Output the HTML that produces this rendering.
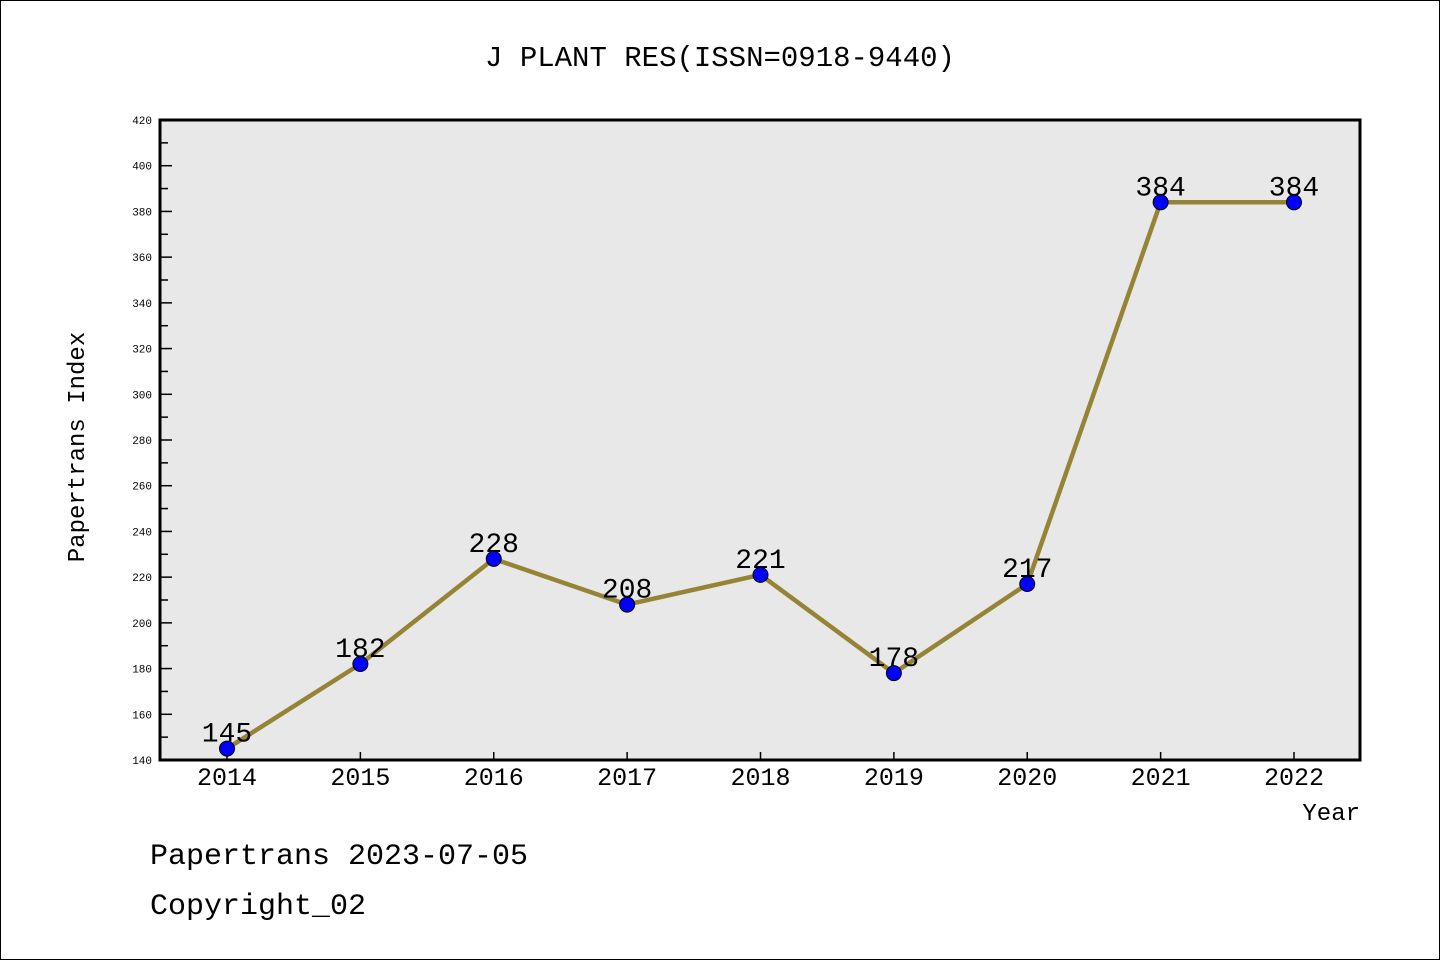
<!DOCTYPE html>
<html><head><meta charset="utf-8"><style>
html,body{margin:0;padding:0;background:#fff}
svg{display:block}
text{font-family:"Liberation Mono","WenQuanYi Zen Hei",monospace}
</style></head><body>
<svg id="chart" width="1440" height="960" xmlns="http://www.w3.org/2000/svg">
<rect x="0.5" y="0.5" width="1439" height="959" fill="#fff" stroke="#000"/>
<text x="720" y="66" font-size="29" text-anchor="middle">J PLANT RES(ISSN=0918-9440)</text>
<rect x="160" y="120" width="1200" height="640" fill="#e8e8e8" stroke="#000" stroke-width="3"/>
<g id="yaxis"></g>
<g id="xaxis"></g>
<g id="series"></g>
<text transform="translate(84,447) rotate(-90)" font-size="24" text-anchor="middle">Papertrans Index</text>
<text x="1360" y="820" font-size="24" text-anchor="end">Year</text>
<text x="150" y="864" font-size="30">Papertrans 2023-07-05</text>
<text x="150" y="914" font-size="30">Copyright_02</text>
</svg>
<script>
const categories=["2014","2015","2016","2017","2018","2019","2020","2021","2022"];
const values=[145,182,228,208,221,178,217,384,384];
const yTicks=[140,160,180,200,220,240,260,280,300,320,340,360,380,400,420];
{
const NS="http://www.w3.org/2000/svg";
const yMin=140,yMax=420,plotTop=120,plotBottom=760;
function y(v){return plotBottom-(v-yMin)/(yMax-yMin)*(plotBottom-plotTop);}
function x(i){return 227+i*(1294-227)/(categories.length-1);}
function mk(tag,attrs,parent,txt){const e=document.createElementNS(NS,tag);for(const k in attrs)e.setAttribute(k,attrs[k]);if(txt!==undefined)e.textContent=txt;parent.appendChild(e);return e;}
const ya=document.getElementById('yaxis');
yTicks.forEach(t=>{
  const l=mk('line',{x1:160,x2:172,y1:y(t),y2:y(t),stroke:'#000','stroke-width':1.5},ya);
  
  
  const tx=mk('text',{x:152,y:y(t)+4,'font-size':11,'text-anchor':'end'},ya,t);
  
  
  if(t<yMax){const m=mk('line',{x1:160,x2:168,y1:y(t+10),y2:y(t+10),stroke:'#000','stroke-width':1.5},ya);
  
  }
});
const xa=document.getElementById('xaxis');
categories.forEach((c,i)=>{
  const l=mk('line',{x1:x(i),x2:x(i),y1:760,y2:752,stroke:'#000','stroke-width':1.5},xa);
  
  
  const tx=mk('text',{x:x(i),y:785,'font-size':25,'text-anchor':'middle'},xa,c);
  
  
});
const s=document.getElementById('series');
const pl=mk('polyline',{points:values.map((v,i)=>x(i)+','+y(v)).join(' '),fill:'none',stroke:'#968436','stroke-width':4.5,'stroke-linejoin':'round'},s);


values.forEach((v,i)=>{
  const c=mk('circle',{cx:x(i),cy:y(v),r:7.5,fill:'#0000ff',stroke:'#000','stroke-width':1},s);
  
  
  const t=mk('text',{x:x(i),y:y(v)-7,'font-size':28,'text-anchor':'middle'},s,v);
  
  
});
}
</script>
</body></html>
